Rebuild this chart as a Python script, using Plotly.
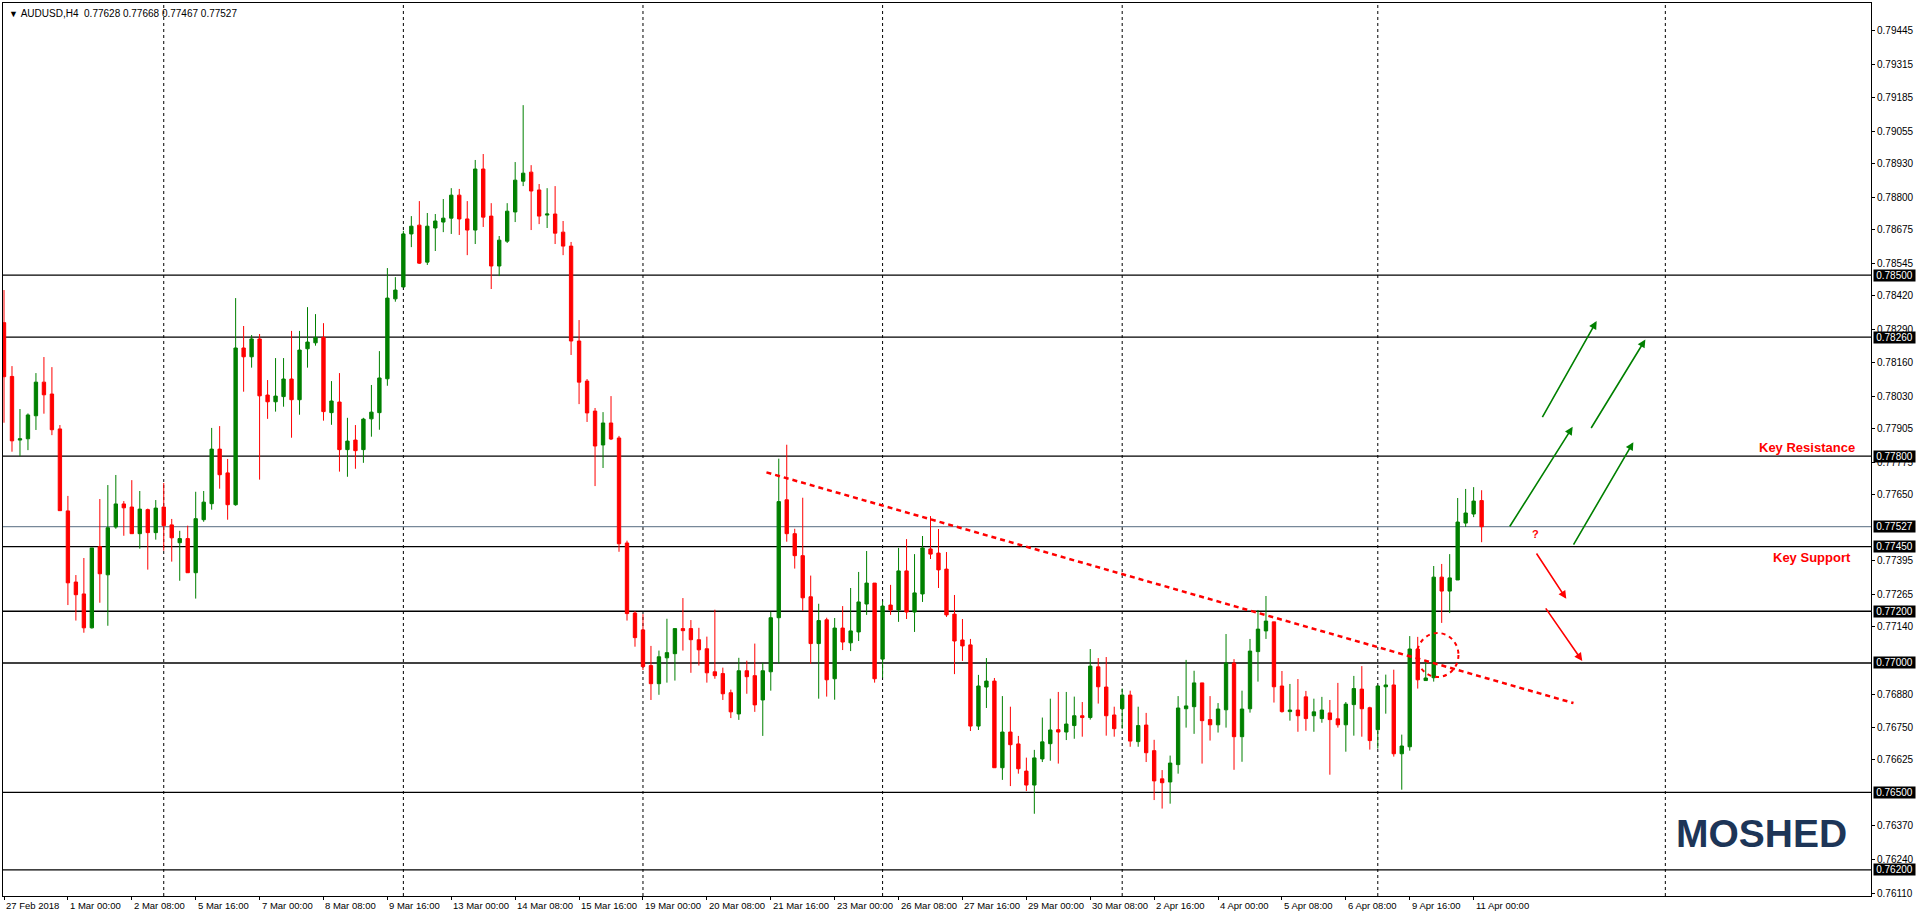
import plotly.graph_objects as go

# ---------------- data (AUDUSD H4) ----------------
opens = [
    0.78316, 0.78108, 0.77862, 0.77867, 0.77956, 0.78086, 0.78040, 0.77905, 0.77588, 0.77313,
    0.77267, 0.77136, 0.77450, 0.77341, 0.77526, 0.77615, 0.77603, 0.77500, 0.77593, 0.77504,
    0.77603, 0.77534, 0.77465, 0.77481, 0.77349, 0.77554, 0.77616, 0.77827, 0.77735, 0.77612,
    0.78218, 0.78184, 0.78253, 0.78036, 0.78010, 0.78030, 0.78098, 0.78018, 0.78215, 0.78238,
    0.78259, 0.77968, 0.78009, 0.77825, 0.77862, 0.77825, 0.77944, 0.77968, 0.78099, 0.78408,
    0.78454, 0.78659, 0.78693, 0.78550, 0.78682, 0.78705, 0.78720, 0.78809, 0.78717, 0.78674,
    0.78910, 0.78728, 0.78535, 0.78631, 0.78744, 0.78863, 0.78898, 0.78829, 0.78732, 0.78736,
    0.78666, 0.78612, 0.78245, 0.78090, 0.77974, 0.77843, 0.77928, 0.77870, 0.77464, 0.77193,
    0.77128, 0.76990, 0.76920, 0.77020, 0.77036, 0.77133, 0.77133, 0.77090, 0.77055, 0.76966,
    0.76959, 0.76885, 0.76803, 0.76970, 0.76951, 0.76857, 0.76966, 0.77175, 0.77631, 0.77500,
    0.77415, 0.77256, 0.77075, 0.77167, 0.76939, 0.77135, 0.77078, 0.77120, 0.77228, 0.77309,
    0.77015, 0.77224, 0.77205, 0.77356, 0.77197, 0.77267, 0.77441, 0.77425, 0.77363, 0.77189,
    0.77089, 0.77070, 0.76756, 0.76907, 0.76930, 0.76595, 0.76733, 0.76687, 0.76582, 0.76528,
    0.76629, 0.76688, 0.76742, 0.76733, 0.76758, 0.76796, 0.76789, 0.76985, 0.76907, 0.76799,
    0.76823, 0.76876, 0.76696, 0.76760, 0.76661, 0.76552, 0.76540, 0.76607, 0.76823, 0.76831,
    0.76923, 0.76781, 0.76761, 0.76819, 0.77000, 0.76715, 0.76823, 0.77044, 0.77124, 0.77159,
    0.76911, 0.76812, 0.76818, 0.76869, 0.76796, 0.76785, 0.76807, 0.76784, 0.76761, 0.76839,
    0.76899, 0.76827, 0.76742, 0.76908, 0.76915, 0.76649, 0.76676, 0.77054, 0.76932, 0.76943,
    0.77332, 0.77278, 0.77321, 0.77541, 0.77576, 0.77628]

highs = [
    0.78442, 0.78148, 0.77982, 0.77965, 0.78121, 0.78183, 0.78144, 0.77920, 0.77646, 0.77340,
    0.77406, 0.77445, 0.77634, 0.77688, 0.77727, 0.77626, 0.77707, 0.77665, 0.77597, 0.77630,
    0.77696, 0.77557, 0.77511, 0.77531, 0.77662, 0.77665, 0.77909, 0.77916, 0.77789, 0.78411,
    0.78303, 0.78268, 0.78272, 0.78094, 0.78179, 0.78179, 0.78284, 0.78284, 0.78376, 0.78349,
    0.78314, 0.78090, 0.78121, 0.77948, 0.77920, 0.77948, 0.78075, 0.78206, 0.78527, 0.78492,
    0.78671, 0.78728, 0.78786, 0.78740, 0.78736, 0.78794, 0.78836, 0.78833, 0.78786, 0.78945,
    0.78968, 0.78778, 0.78651, 0.78778, 0.78937, 0.79157, 0.78925, 0.78852, 0.78836, 0.78844,
    0.78709, 0.78628, 0.78326, 0.78098, 0.77986, 0.77970, 0.78032, 0.77878, 0.77473, 0.77201,
    0.77189, 0.77066, 0.77048, 0.77171, 0.77133, 0.77251, 0.77166, 0.77136, 0.77102, 0.77206,
    0.76982, 0.76897, 0.77020, 0.77009, 0.77075, 0.77001, 0.77198, 0.77790, 0.77844, 0.77519,
    0.77639, 0.77338, 0.77229, 0.77175, 0.77174, 0.77220, 0.77290, 0.77352, 0.77433, 0.77309,
    0.77240, 0.77302, 0.77445, 0.77479, 0.77421, 0.77491, 0.77568, 0.77518, 0.77429, 0.77263,
    0.77170, 0.77093, 0.76954, 0.77019, 0.76942, 0.76872, 0.76831, 0.76718, 0.76634, 0.76664,
    0.76789, 0.76862, 0.76888, 0.76888, 0.76870, 0.76849, 0.77054, 0.77019, 0.77023, 0.76831,
    0.76901, 0.76893, 0.76831, 0.76807, 0.76703, 0.76586, 0.76642, 0.76872, 0.77012, 0.76970,
    0.76923, 0.76872, 0.76845, 0.77112, 0.77015, 0.76893, 0.77093, 0.77205, 0.77259, 0.77159,
    0.76969, 0.76919, 0.76938, 0.76892, 0.76862, 0.76869, 0.76857, 0.76923, 0.76849, 0.76950,
    0.76988, 0.76831, 0.76915, 0.76955, 0.76974, 0.76723, 0.77104, 0.77101, 0.77012, 0.77375,
    0.77383, 0.77421, 0.77638, 0.77673, 0.77680, 0.77668]

lows = [
    0.77929, 0.77817, 0.77800, 0.77823, 0.77901, 0.77964, 0.77881, 0.77589, 0.77224, 0.77164,
    0.77117, 0.77133, 0.77233, 0.77144, 0.77519, 0.77492, 0.77500, 0.77442, 0.77361, 0.77477,
    0.77434, 0.77392, 0.77318, 0.77349, 0.77249, 0.77546, 0.77593, 0.77674, 0.77554, 0.77608,
    0.78049, 0.78142, 0.77709, 0.77944, 0.77972, 0.77991, 0.77871, 0.77960, 0.78142, 0.78227,
    0.77937, 0.77921, 0.77740, 0.77720, 0.77751, 0.77774, 0.77875, 0.77902, 0.78072, 0.78397,
    0.78454, 0.78608, 0.78543, 0.78539, 0.78593, 0.78666, 0.78659, 0.78655, 0.78577, 0.78620,
    0.78686, 0.78446, 0.78496, 0.78624, 0.78705, 0.78844, 0.78674, 0.78697, 0.78682, 0.78620,
    0.78577, 0.78191, 0.78001, 0.77932, 0.77684, 0.77754, 0.77862, 0.77430, 0.77164, 0.77063,
    0.76973, 0.76857, 0.76877, 0.76924, 0.76932, 0.77048, 0.76962, 0.76990, 0.76924, 0.76939,
    0.76857, 0.76787, 0.76780, 0.76881, 0.76811, 0.76718, 0.76893, 0.76997, 0.77469, 0.77365,
    0.77202, 0.76997, 0.76862, 0.76870, 0.76858, 0.77050, 0.77046, 0.77085, 0.77186, 0.76924,
    0.76943, 0.77186, 0.77159, 0.77170, 0.77120, 0.77236, 0.77402, 0.77290, 0.77178, 0.76957,
    0.77008, 0.76737, 0.76741, 0.76826, 0.76595, 0.76548, 0.76524, 0.76572, 0.76505, 0.76417,
    0.76617, 0.76622, 0.76611, 0.76702, 0.76707, 0.76715, 0.76781, 0.76843, 0.76719, 0.76715,
    0.76746, 0.76676, 0.76676, 0.76617, 0.76470, 0.76437, 0.76456, 0.76572, 0.76750, 0.76726,
    0.76611, 0.76700, 0.76731, 0.76750, 0.76587, 0.76618, 0.76808, 0.76928, 0.77093, 0.76847,
    0.76808, 0.76777, 0.76734, 0.76738, 0.76734, 0.76769, 0.76568, 0.76750, 0.76657, 0.76719,
    0.76715, 0.76665, 0.76669, 0.76804, 0.76638, 0.76510, 0.76661, 0.76901, 0.76932, 0.76928,
    0.77155, 0.77193, 0.77321, 0.77526, 0.77564, 0.77467]

closes = [
    0.78107, 0.77859, 0.77867, 0.77959, 0.78086, 0.78037, 0.77902, 0.77589, 0.77310, 0.77264,
    0.77136, 0.77445, 0.77345, 0.77523, 0.77615, 0.77600, 0.77500, 0.77595, 0.77504, 0.77599,
    0.77531, 0.77484, 0.77481, 0.77349, 0.77558, 0.77622, 0.77827, 0.77728, 0.77612, 0.78218,
    0.78184, 0.78253, 0.78033, 0.78010, 0.78032, 0.78098, 0.78018, 0.78210, 0.78241, 0.78259,
    0.77972, 0.78013, 0.77825, 0.77858, 0.77821, 0.77943, 0.77970, 0.78102, 0.78411, 0.78442,
    0.78659, 0.78689, 0.78546, 0.78689, 0.78709, 0.78720, 0.78809, 0.78717, 0.78674, 0.78910,
    0.78724, 0.78535, 0.78635, 0.78747, 0.78867, 0.78894, 0.78825, 0.78728, 0.78736, 0.78662,
    0.78612, 0.78245, 0.78086, 0.77967, 0.77839, 0.77928, 0.77866, 0.77461, 0.77191, 0.77098,
    0.76986, 0.76920, 0.77024, 0.77040, 0.77133, 0.77125, 0.77090, 0.77051, 0.76962, 0.76951,
    0.76881, 0.76811, 0.76970, 0.76947, 0.76838, 0.76970, 0.77175, 0.77624, 0.77500, 0.77415,
    0.77252, 0.77075, 0.77164, 0.76935, 0.77135, 0.77081, 0.77124, 0.77236, 0.77309, 0.76939,
    0.77220, 0.77205, 0.77356, 0.77197, 0.77271, 0.77445, 0.77421, 0.77360, 0.77186, 0.77085,
    0.77066, 0.76756, 0.76911, 0.76930, 0.76595, 0.76733, 0.76684, 0.76591, 0.76528, 0.76633,
    0.76695, 0.76741, 0.76733, 0.76764, 0.76796, 0.76789, 0.76988, 0.76908, 0.76796, 0.76746,
    0.76876, 0.76698, 0.76758, 0.76653, 0.76544, 0.76537, 0.76613, 0.76826, 0.76834, 0.76923,
    0.76777, 0.76761, 0.76822, 0.77000, 0.76715, 0.76822, 0.77046, 0.77131, 0.77162, 0.76908,
    0.76812, 0.76818, 0.76796, 0.76785, 0.76811, 0.76818, 0.76781, 0.76761, 0.76841, 0.76901,
    0.76823, 0.76700, 0.76911, 0.76915, 0.76649, 0.76679, 0.77054, 0.76935, 0.76942, 0.77332,
    0.77278, 0.77329, 0.77545, 0.77580, 0.77626, 0.77527]

time_labels = ["27 Feb 2018", "1 Mar 00:00", "2 Mar 08:00", "5 Mar 16:00", "7 Mar 00:00",
               "8 Mar 08:00", "9 Mar 16:00", "13 Mar 00:00", "14 Mar 08:00", "15 Mar 16:00",
               "19 Mar 00:00", "20 Mar 08:00", "21 Mar 16:00", "23 Mar 00:00", "26 Mar 08:00",
               "27 Mar 16:00", "29 Mar 00:00", "30 Mar 08:00", "2 Apr 16:00", "4 Apr 00:00",
               "5 Apr 08:00", "6 Apr 08:00", "9 Apr 16:00", "11 Apr 00:00"]
label_step = 8
week_separators = [20, 50, 80, 110, 140, 172, 208]

price_ticks = [0.79445, 0.79315, 0.79185, 0.79055, 0.78930, 0.78800, 0.78675, 0.78545,
               0.78420, 0.78290, 0.78160, 0.78030, 0.77905, 0.77775, 0.77650, 0.77395,
               0.77265, 0.77140, 0.76880, 0.76750, 0.76625, 0.76370, 0.76240, 0.76110]
levels = [0.78500, 0.78260, 0.77800, 0.77450, 0.77200, 0.77000, 0.76500, 0.76200]
bid_price = 0.77527

# drawn annotations (index, price)
trendline = [(95.46, 0.77737), (196.5, 0.76845)]
green_arrows = [((188.4, 0.77522), (196.4, 0.77913)),
                ((192.5, 0.77945), (199.4, 0.78322)),
                ((196.4, 0.77452), (204.0, 0.77854)),
                ((198.6, 0.77903), (205.5, 0.78251))]
red_arrows = [((191.75, 0.77429), (195.6, 0.77248)),
              ((192.9, 0.77217), (197.6, 0.77008))]
circle_box = (176.9, 0.76946, 182.1, 0.77116)

# ---------------- figure ----------------
GREEN = "#008000"
RED = "#FF0000"
FONT = "Liberation Sans"

x = list(range(len(opens)))
fig = go.Figure()
fig.add_trace(go.Candlestick(
    x=x, open=opens, high=highs, low=lows, close=closes,
    increasing=dict(line=dict(color=GREEN, width=1), fillcolor=GREEN),
    decreasing=dict(line=dict(color=RED, width=1), fillcolor=RED),
    whiskerwidth=0, hoverinfo="skip", showlegend=False))

shapes = []
for wx in week_separators:
    shapes.append(dict(type="line", xref="x", yref="paper", x0=wx, x1=wx, y0=0, y1=1,
                       line=dict(color="black", width=1, dash="3px,3px"), layer="below"))
for lv in levels:
    shapes.append(dict(type="line", xref="paper", yref="y", x0=0, x1=1, y0=lv, y1=lv,
                       line=dict(color="black", width=1.3), layer="below"))
shapes.append(dict(type="line", xref="paper", yref="y", x0=0, x1=1, y0=bid_price, y1=bid_price,
                   line=dict(color="#778899", width=1.2), layer="below"))
(tx0, ty0), (tx1, ty1) = trendline
shapes.append(dict(type="line", xref="x", yref="y", x0=tx0, y0=ty0, x1=tx1, y1=ty1,
                   line=dict(color=RED, width=2.5, dash="5px,4px")))
cx0, cy0, cx1, cy1 = circle_box
shapes.append(dict(type="circle", xref="x", yref="y", x0=cx0, y0=cy0, x1=cx1, y1=cy1,
                   line=dict(color=RED, width=2, dash="4px,4px")))

ann = []
# title
ann.append(dict(xref="paper", yref="paper", x=0, y=1, xanchor="left", yanchor="top",
                xshift=4, yshift=-3, showarrow=False,
                text="<span style='font-size:9px'>▼</span>\u00a0AUDUSD,H4\u00a0\u00a00.77628 0.77668 0.77467 0.77527",
                font=dict(family=FONT, size=10, color="black")))
# time labels
for k, lab in enumerate(time_labels):
    ann.append(dict(xref="x", yref="paper", x=k * label_step, y=0, xanchor="left",
                    yanchor="top", xshift=0, yshift=-2, showarrow=False, text=lab,
                    font=dict(family=FONT, size=9.5, color="black")))
# black price boxes
for lv in levels + [bid_price]:
    ann.append(dict(xref="paper", yref="y", x=1, y=lv, xanchor="left", yanchor="middle",
                    xshift=2, showarrow=False, text=f"{lv:.5f}", bgcolor="black",
                    borderpad=1, width=39, height=9,
                    font=dict(family=FONT, size=10, color="white")))
# text labels
ann.append(dict(xref="x", yref="y", x=232.0, y=0.77835, xanchor="right", yanchor="middle",
                showarrow=False, text="<b>Key Resistance</b>",
                font=dict(family=FONT, size=13, color=RED)))
ann.append(dict(xref="x", yref="y", x=231.5, y=0.77406, xanchor="right", yanchor="middle",
                showarrow=False, text="<b>Key Support</b>",
                font=dict(family=FONT, size=13, color=RED)))
ann.append(dict(xref="x", yref="y", x=191.75, y=0.77497, xanchor="center", yanchor="middle",
                showarrow=False, text="<b>?</b>", font=dict(family=FONT, size=11, color=RED)))
ann.append(dict(xref="x", yref="y", x=231.0, y=0.76339, xanchor="right", yanchor="middle",
                showarrow=False, text="<b>MOSHED</b>",
                font=dict(family=FONT, size=39, color="#1D3557")))
# arrows
for (t, h), col in [(a, GREEN) for a in green_arrows] + [(a, RED) for a in red_arrows]:
    ann.append(dict(xref="x", yref="y", axref="x", ayref="y", x=h[0], y=h[1], ax=t[0], ay=t[1],
                    showarrow=True, arrowhead=2, arrowsize=1, arrowwidth=1.6,
                    arrowcolor=col, text="", standoff=0))

fig.update_layout(
    width=1916, height=917,
    margin=dict(l=2, r=43, t=3, b=21, pad=0),
    paper_bgcolor="white", plot_bgcolor="white",
    showlegend=False, boxgap=0.4,
    shapes=shapes, annotations=ann,
    xaxis=dict(range=[-0.125, 233.75], showgrid=False, zeroline=False,
               showline=True, mirror=True, linecolor="black", linewidth=1,
               ticks="outside", ticklen=3, tickcolor="black",
               tickvals=[k * label_step for k in range(len(time_labels))],
               showticklabels=False, rangeslider=dict(visible=False), fixedrange=True),
    yaxis=dict(range=[0.76099, 0.79552], side="right", showgrid=False, zeroline=False,
               showline=True, mirror=True, linecolor="black", linewidth=1,
               ticks="outside", ticklen=3, tickcolor="black",
               tickvals=price_ticks, ticktext=[f"{v:.5f}" for v in price_ticks],
               tickfont=dict(family=FONT, size=10, color="black"), fixedrange=True),
)

fig.write_html("out.html", config={"displayModeBar": False})
